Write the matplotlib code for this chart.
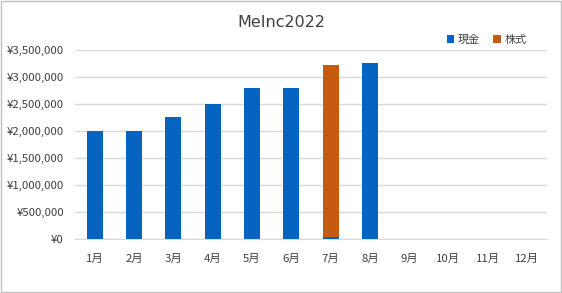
import matplotlib
matplotlib.use("Agg")
import matplotlib.pyplot as plt
from matplotlib.ticker import FuncFormatter
from matplotlib.patches import Rectangle

plt.rcParams['font.family'] = ['Noto Sans CJK JP', 'DejaVu Sans']

months = ["1月", "2月", "3月", "4月", "5月", "6月", "7月", "8月", "9月", "10月", "11月", "12月"]
cash = [2000000, 2000000, 2270000, 2500000, 2800000, 2800000, 50000, 3260000, 0, 0, 0, 0]
stock = [0, 0, 0, 0, 0, 0, 3170000, 0, 0, 0, 0, 0]
series_names = ["現金", "株式"]
colors = ["#0563C1", "#C55A11"]

fig = plt.figure(figsize=(5.62, 2.93), dpi=100)
ax = fig.add_axes([0.1335, 0.1826, 0.8395, 0.6464])

x = list(range(len(months)))
ax.bar(x, cash, width=0.41, color=colors[0], label=series_names[0], zorder=3)
ax.bar(x, stock, width=0.41, bottom=cash, color=colors[1], label=series_names[1], zorder=3)

ax.set_xlim(-0.5, len(months) - 0.5)
ax.set_ylim(0, 3500000)
ax.set_yticks(range(0, 3500001, 500000))
ax.yaxis.set_major_formatter(FuncFormatter(lambda v, p: "¥{:,.0f}".format(v)))
ax.set_xticks(x)
ax.set_xticklabels(months)
ax.grid(axis='y', color='#d9d9d9', linewidth=1, zorder=0)
for s in ['top', 'right', 'left']:
    ax.spines[s].set_visible(False)
ax.spines['bottom'].set_color('#d9d9d9')
ax.tick_params(length=0, labelsize=8.2, colors='#404040')
ax.tick_params(axis='x', pad=10)
ax.tick_params(axis='y', pad=8)

fig.suptitle("MeInc2022", x=0.5, y=0.95, fontsize=11.5, color='#404040', family=['DejaVu Sans'])
fig.legend(loc='upper right', bbox_to_anchor=(0.955, 0.915), ncol=2, frameon=False,
           fontsize=8, handlelength=0.7, handleheight=0.7, handletextpad=0.3,
           columnspacing=1.2, labelcolor='#404040')

fig.patches.append(Rectangle((0.001, 0.002), 0.997, 0.995, transform=fig.transFigure,
                             fill=False, edgecolor='#bfbfbf', linewidth=1))

fig.savefig("out.png", dpi=100)
